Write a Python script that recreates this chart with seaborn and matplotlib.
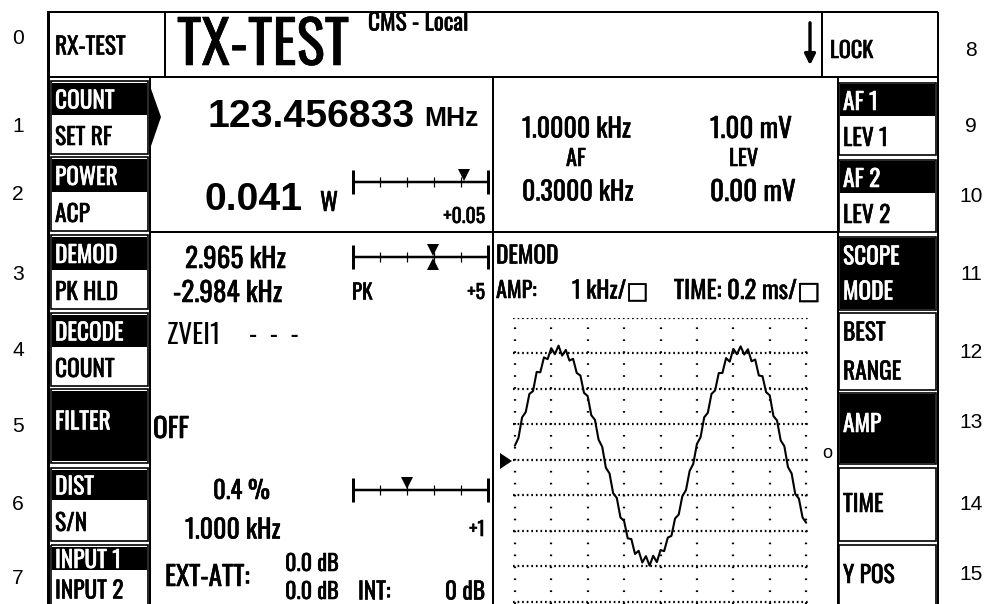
import matplotlib
matplotlib.use('Agg')
import matplotlib.pyplot as plt
import matplotlib.patheffects as pe
import seaborn as sns
import pandas as pd
from matplotlib import font_manager
from matplotlib.patches import Rectangle, Polygon

# scope trace: DEMOD, 1 kHz/div vertical, 0.2 ms/div horizontal
time_ms = [0.00, 0.02, 0.04, 0.06, 0.08, 0.10, 0.12, 0.14, 0.16, 0.18,
           0.20, 0.22, 0.24, 0.26, 0.28, 0.30, 0.32, 0.34, 0.36, 0.38,
           0.40, 0.42, 0.44, 0.46, 0.48, 0.50, 0.52, 0.54, 0.56, 0.58,
           0.60, 0.62, 0.64, 0.66, 0.68, 0.70, 0.72, 0.74, 0.76, 0.78,
           0.80, 0.82, 0.84, 0.86, 0.88, 0.90, 0.92, 0.94, 0.96, 0.98,
           1.00, 1.02, 1.04, 1.06, 1.08, 1.10, 1.12, 1.14, 1.16, 1.18,
           1.20, 1.22, 1.24, 1.26, 1.28, 1.30, 1.32, 1.34, 1.36, 1.38,
           1.40, 1.42, 1.44, 1.46, 1.48, 1.50, 1.52, 1.54, 1.56, 1.58, 1.60]
demod_khz = [0.40, 0.62, 1.20, 1.35, 1.86, 1.94, 2.48, 2.47, 2.89, 2.84,
             3.15, 2.98, 3.22, 2.94, 3.10, 2.80, 2.85, 2.45, 2.38, 1.89,
             1.80, 1.26, 1.13, 0.57, 0.37, -0.22, -0.38, -0.94, -1.07, -1.62,
             -1.72, -2.21, -2.23, -2.65, -2.56, -2.89, -2.71, -2.98, -2.70, -2.88,
             -2.54, -2.57, -2.19, -2.14, -1.65, -1.54, -1.02, -0.85, -0.31, -0.11,
             0.45, 0.64, 1.20, 1.33, 1.86, 1.96, 2.45, 2.45, 2.87, 2.77,
             3.13, 2.98, 3.20, 2.97, 3.12, 2.78, 2.83, 2.38, 2.36, 1.91,
             1.82, 1.24, 1.11, 0.55, 0.39, -0.20, -0.38, -0.96, -1.09, -1.62, -1.77]

# bar meters: reading and full scale
bar_values = [0.041, 2.965, 0.4]
bar_full = [0.05, 5.0, 1.0]
bar_labels = ['+0.05', '+5', '+1']

left_keys = [('COUNT', 'SET RF'), ('POWER', 'ACP'), ('DEMOD', 'PK HLD'),
             ('DECODE', 'COUNT'), ('FILTER', None), ('DIST', 'S/N'),
             ('INPUT 1', 'INPUT 2')]
right_keys = [('AF 1', 'LEV 1', 'split'), ('AF 2', 'LEV 2', 'split'),
              ('SCOPE', 'MODE', 'black'), ('BEST', 'RANGE', 'white'),
              ('AMP', None, 'black'), ('TIME', None, 'white'),
              ('Y POS', None, 'white')]

sns.set_theme(style='white')

# a condensed face looks closest to the instrument's LCD font
installed = {f.name for f in font_manager.fontManager.ttflist}
cap_ratio = {'Oswald': 0.81, 'Roboto Condensed': 0.71, 'PT Sans Narrow': 0.70,
             'Archivo Narrow': 0.70, 'Liberation Sans Narrow': 0.72}
narrow_face, narrow_cap, squeeze = 'Liberation Sans', 0.72, 0.78
for name in cap_ratio:
    if name in installed:
        narrow_face, narrow_cap, squeeze = name, cap_ratio[name], 1.0
        break
NARROW = [narrow_face, 'DejaVu Sans']
REG = ['Liberation Sans', 'DejaVu Sans']
plt.rcParams['font.family'] = REG

fig = plt.figure(figsize=(9.9, 6.04), dpi=100)
ax = fig.add_axes([0, 0, 1, 1])
ax.set_xlim(0, 990)
ax.set_ylim(604, 0)
ax.axis('off')


def txt(x, yc, s, cap, narrow=True, color='black', ha='left', bold=True):
    # cap: wanted capital height in pixels, yc: its vertical centre
    if narrow:
        size = cap * 0.72 / narrow_cap * squeeze
        real_cap = size * narrow_cap / 0.72
        fam = NARROW
    else:
        size = cap * 0.72 / 0.716
        real_cap = cap
        fam = REG
    t = ax.text(x, yc + real_cap / 2, s, fontsize=size, color=color, ha=ha, va='baseline',
                family=fam, fontweight='bold' if bold else 'normal')
    if narrow and bold:
        # thicken the strokes slightly, the LCD font is heavy
        t.set_path_effects([pe.withStroke(linewidth=0.4, foreground=color)])


def line(x0, y0, x1, y1, px=2):
    ax.plot([x0, x1], [y0, y1], color='black', lw=px * 0.72, solid_capstyle='butt')


# outer frame
line(47, 12, 938, 12, 2)
line(47, 77, 938, 77, 2)
line(48, 12, 48, 604, 3)
line(938, 12, 938, 604, 2)
line(165, 12, 165, 77, 2)
line(822, 12, 822, 77, 2)
line(150, 77, 150, 604, 2)
line(838, 77, 838, 604, 2)
line(493, 77, 493, 604, 2)
line(150, 232, 838, 232, 2)

# row numbers
left_rows = [37, 124, 192, 273, 348, 425, 503, 576]
right_rows = [49, 125, 195, 273, 351, 421, 502, 572]
for i, y in enumerate(left_rows):
    txt(18, y, str(i), 15, narrow=False, ha='center', bold=False)
for i, y in enumerate(right_rows):
    txt(971, y, str(i + 8), 15, narrow=False, ha='center', bold=False)

# header
txt(55, 45, 'RX-TEST', 19)
txt(177, 41, 'TX-TEST', 48)
txt(368, 21, 'CMS - Local', 19)
ax.annotate('', xy=(810, 68), xytext=(810, 20),
            arrowprops=dict(arrowstyle='-|>', lw=2.4, color='black', mutation_scale=16))
txt(830, 49, 'LOCK', 18)

# left softkeys
lk_pos = [(81, 115, 154), (157, 192, 231), (235, 270, 309), (313, 347, 386),
          (389, None, 463), (468, 500, 541), (545, 570, 606)]
for (top, lab), (y0, ym, y1) in zip(left_keys, lk_pos):
    ax.add_patch(Rectangle((51, y0), 97, y1 - y0, fill=False, lw=1.2, ec='black'))
    if lab is None:
        ax.add_patch(Rectangle((52, y0 + 2), 95, y1 - y0 - 4, color='black', lw=0))
        txt(55, (y0 + y1) / 2 - 6, top, 19, color='white')
    else:
        ax.add_patch(Rectangle((52, y0 + 2), 95, ym - y0 - 2, color='black', lw=0))
        txt(55, (y0 + ym) / 2 + 1, top, 19, color='white')
        txt(55, (ym + y1) / 2 + 1, lab, 19)

# right softkeys
rk_pos = [(83, 116, 155), (160, 193, 232), (237, 273, 310), (313, 351, 390),
          (393, None, 464), (468, None, 541), (545, None, 606)]
for (top, bot, mode), (y0, ym, y1) in zip(right_keys, rk_pos):
    ax.add_patch(Rectangle((839, y0), 97, y1 - y0, fill=False, lw=1.2, ec='black'))
    if mode == 'split':
        ax.add_patch(Rectangle((840, y0 + 1), 95, ym - y0 - 1, color='black', lw=0))
        txt(843, (y0 + ym) / 2 + 1, top, 19, color='white')
        txt(843, (ym + y1) / 2 + 1, bot, 19)
    else:
        col = 'white' if mode == 'black' else 'black'
        if mode == 'black':
            ax.add_patch(Rectangle((840, y0 + 1), 95, y1 - y0 - 2, color='black', lw=0))
        if bot is None:
            yc = (y0 + y1) / 2 - 6 if mode == 'black' else (y0 + y1) / 2 - 2
            txt(843, yc, top, 19, color=col)
        else:
            txt(843, y0 + 18, top, 19, color=col)
            txt(843, y1 - 20, bot, 19, color=col)

# pointer next to COUNT
ax.add_patch(Polygon([(150, 86), (161, 117), (150, 149)], closed=True, color='black', lw=0))

# RF counter / power
txt(208, 113, '123.456833', 28, narrow=False)
txt(424, 116, 'MHz', 19, narrow=False)
txt(205, 196, '0.041', 28, narrow=False)
txt(320, 201, 'W', 20)

# AF / LEV block
txt(522, 127, '1.0000 kHz', 21)
txt(710, 127, '1.00 mV', 22)
txt(566, 157, 'AF', 18)
txt(729, 157, 'LEV', 18)
txt(522, 190, '0.3000 kHz', 21)
txt(710, 190, '0.00 mV', 22)

# demod / decode / filter / dist / input
txt(185, 257, '2.965 kHz', 22)
txt(173, 291, '-2.984 kHz', 22)
txt(352, 291, 'PK', 17)
txt(167, 333, 'ZVEI1', 22, bold=False)
txt(249, 333, '-  -  -', 22, bold=False)
txt(153, 427, 'OFF', 22)
txt(213, 489, '0.4 %', 20)
txt(185, 528, '1.000 kHz', 21)
txt(165, 575, 'EXT-ATT:', 22)
txt(285, 562, '0.0 dB', 18)
txt(285, 590, '0.0 dB', 18)
txt(358, 590, 'INT:', 19)
txt(485, 590, '0 dB', 19, ha='right')

# bar meters
bar_y = [182, 257, 490]
label_y = [215, 291, 528]
bx0, bx1 = 353, 488
for v, full, lab, yb, yl, k in zip(bar_values, bar_full, bar_labels, bar_y, label_y, range(3)):
    line(bx0, yb, bx1, yb, 2.5)
    line(bx0, yb - 12, bx0, yb + 12, 3)
    line(bx1, yb - 12, bx1, yb + 12, 3)
    for f in [0.2, 0.4, 0.6, 0.8]:
        xt = bx0 + f * (bx1 - bx0)
        line(xt, yb - 5, xt, yb + 5, 1.2)
    xm = bx0 + v / full * (bx1 - bx0)
    ax.plot([xm], [yb - 7], marker='v', ms=9, color='black', mew=0)
    if k == 1:
        ax.plot([xm], [yb + 7], marker='^', ms=9, color='black', mew=0)
    txt(485, yl, lab, 16, ha='right')

# scope header
txt(496, 254, 'DEMOD', 19)
txt(496, 289, 'AMP:', 18)
txt(572, 289, '1 kHz/\u25a1', 19)
txt(820, 289, 'TIME: 0.2 ms/\u25a1', 20, ha='right')
ax.add_patch(Polygon([(500, 453), (500, 469), (512, 461)], closed=True, color='black', lw=0))
txt(822, 452, 'o', 13, narrow=False, bold=False)

# scope screen
sax = fig.add_axes([513 / 990, 0, 295 / 990, 286 / 604])
sax.patch.set_alpha(0)
for yv in range(-4, 5):
    sax.axhline(yv, color='black', lw=1.6, ls=(0, (0.75, 1.31)), zorder=1)
for xv in [0.0, 0.2, 0.4, 0.6, 0.8, 1.0, 1.2, 1.4, 1.6]:
    sax.axvline(xv, color='black', lw=1.6, ls=(0, (0.75, 4.63)), zorder=1)
df = pd.DataFrame({'time': time_ms, 'khz': demod_khz})
sns.lineplot(data=df, x='time', y='khz', color='black', lw=1.5, ax=sax, zorder=3)
sax.set_xlim(-0.01, 1.61)
sax.set_ylim(-4.06, 4.0)
sax.axis('off')

fig.savefig('out.png', dpi=100, facecolor='white')
